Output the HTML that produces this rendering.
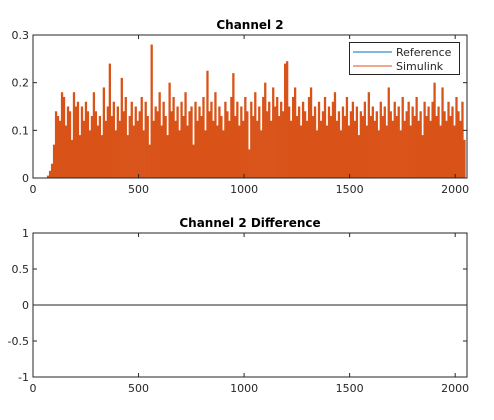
<!DOCTYPE html>
<html><head><meta charset="utf-8"><style>
body{margin:0;background:#fff}
svg text{font-family:"DejaVu Sans","Liberation Sans",sans-serif;font-size:11px;fill:#262626}
</style></head><body>
<svg width="494" height="415" xmlns="http://www.w3.org/2000/svg">
<rect width="494" height="415" fill="#fff"/>
<g id="top"></g>
<g id="bot"></g>
</svg>
<script>
const topValues=[0,0,0,0,0,0,0,0.005,0.015,0.03,
0.07,0.14,0.13,0.12,0.18,0.17,0.11,0.15,0.14,0.08,
0.18,0.15,0.16,0.09,0.15,0.12,0.16,0.14,0.10,0.13,
0.18,0.14,0.11,0.13,0.09,0.19,0.12,0.15,0.24,0.13,
0.16,0.10,0.15,0.12,0.21,0.14,0.17,0.09,0.13,0.16,
0.11,0.15,0.12,0.14,0.17,0.10,0.16,0.13,0.07,0.28,
0.12,0.15,0.14,0.18,0.11,0.16,0.13,0.09,0.20,0.14,
0.17,0.12,0.15,0.10,0.16,0.13,0.18,0.11,0.14,0.15,
0.07,0.16,0.12,0.15,0.13,0.17,0.10,0.225,0.14,0.16,
0.12,0.18,0.11,0.15,0.13,0.10,0.16,0.14,0.12,0.17,
0.22,0.13,0.16,0.11,0.15,0.12,0.17,0.14,0.06,0.16,
0.13,0.18,0.12,0.15,0.10,0.17,0.20,0.14,0.16,0.12,
0.19,0.15,0.17,0.13,0.16,0.14,0.24,0.245,0.15,0.12,
0.17,0.19,0.13,0.15,0.11,0.16,0.14,0.12,0.17,0.19,
0.13,0.15,0.10,0.16,0.12,0.14,0.17,0.11,0.15,0.13,
0.16,0.18,0.12,0.14,0.10,0.15,0.13,0.17,0.11,0.14,
0.16,0.12,0.15,0.09,0.14,0.13,0.16,0.11,0.18,0.13,
0.15,0.12,0.14,0.10,0.16,0.13,0.15,0.11,0.19,0.14,
0.12,0.16,0.13,0.15,0.10,0.17,0.12,0.14,0.16,0.11,
0.15,0.13,0.17,0.12,0.14,0.09,0.16,0.13,0.15,0.12,
0.16,0.20,0.13,0.15,0.11,0.19,0.14,0.12,0.16,0.13,
0.15,0.11,0.17,0.14,0.12,0.16,0.08];
const diffValues=[0,0];
const xTicks=[0,500,1000,1500,2000];
const topYTicks=[0,0.1,0.2,0.3];
const botYTicks=[-1,-0.5,0,0.5,1];
const topYLabels=["0","0.1","0.2","0.3"];
const botYLabels=["-1","-0.5","0","0.5","1"];
const XMAX=2056, NB=2048;
const NS="http://www.w3.org/2000/svg";
function mk(p,t,a){const e=document.createElementNS(NS,t);for(const k in a)e.setAttribute(k,a[k]);p.appendChild(e);return e;}
function axes(g,L,T,R,B,ymin,ymax,yt,yl,title){
  const sx=v=>L+(v/XMAX)*(R-L), sy=v=>B-(v-ymin)/(ymax-ymin)*(B-T);
  return {sx,sy,draw(){
    mk(g,'rect',{x:L,y:T,width:R-L,height:B-T,fill:'none',stroke:'#262626','stroke-width':1});
    xTicks.forEach(v=>{const x=sx(v);
      const t=mk(g,'line',{x1:x,x2:x,y1:B,y2:B-4,stroke:'#262626'});
      
      mk(g,'line',{x1:x,x2:x,y1:T,y2:T+4,stroke:'#262626'});
      const l=mk(g,'text',{x:x,y:B+15,'text-anchor':'middle'});l.textContent=v;
      });
    yt.forEach((v,i)=>{const y=sy(v);
      mk(g,'line',{x1:L,x2:L+4,y1:y,y2:y,stroke:'#262626'});
      mk(g,'line',{x1:R,x2:R-4,y1:y,y2:y,stroke:'#262626'});
      const l=mk(g,'text',{x:L-4,y:y+4,'text-anchor':'end'});l.textContent=yl[i];
      });
    const tt=mk(g,'text',{x:(L+R)/2,y:T-6,'text-anchor':'middle'});
    tt.style.fontWeight='bold';tt.style.fontSize='12px';tt.style.fill='#000';tt.textContent=title;
    
  }};
}
const gt=document.getElementById('top');
const A=axes(gt,33,35,467,178,0,0.3,topYTicks,topYLabels,'Channel 2');
const bw=NB/topValues.length;
topValues.forEach((v,i)=>{
  const x0=A.sx(i*bw),x1=A.sx((i+1)*bw);
  const r=mk(gt,'rect',{x:x0,y:A.sy(v),width:x1-x0+0.3,height:A.sy(0)-A.sy(v),fill:'#D95319'});
  
});
A.draw();
const lg=mk(gt,'g',{});

mk(lg,'rect',{x:349.5,y:42.5,width:110,height:32,fill:'#fff',stroke:'#262626'});
mk(lg,'line',{x1:353,x2:392,y1:52,y2:52,stroke:'#0072BD'});
mk(lg,'line',{x1:353,x2:392,y1:66,y2:66,stroke:'#D95319'});
const t1=mk(lg,'text',{x:396,y:56});t1.textContent='Reference';t1.style.fontSize='11px';

const t2=mk(lg,'text',{x:396,y:70});t2.textContent='Simulink';t2.style.fontSize='11px';


const gb=document.getElementById('bot');
const B=axes(gb,33,233,467,377,-1,1,botYTicks,botYLabels,'Channel 2 Difference');
const dl=mk(gb,'line',{x1:B.sx(0),x2:B.sx(NB),y1:B.sy(diffValues[0]),y2:B.sy(diffValues[1]),stroke:'#262626','stroke-width':1});

B.draw();
</script>
</body></html>
